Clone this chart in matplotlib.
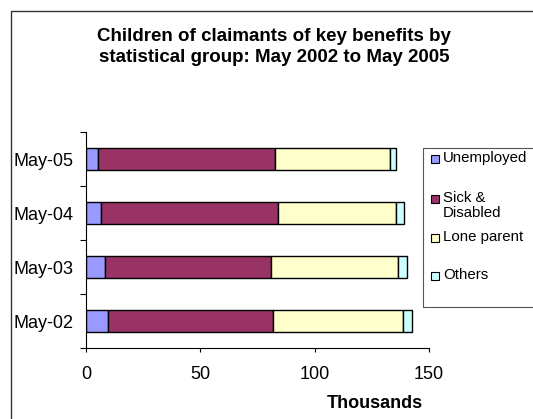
import matplotlib.pyplot as plt
from matplotlib.patches import Rectangle

# data (thousands of children)
periods = ["May-02", "May-03", "May-04", "May-05"]
groups = ["Unemployed", "Sick &\nDisabled", "Lone parent", "Others"]
unemployed = [9.7, 8.3, 6.7, 5.1]
sick_disabled = [72.1, 72.8, 77.3, 77.5]
lone_parent = [57.0, 55.5, 51.7, 50.5]
others = [3.8, 3.8, 3.2, 2.6]
x_ticks = [0, 50, 100, 150]

colors = ["#9999FF", "#993366", "#FFFFCC", "#CCFFFF"]

plt.rcParams["font.family"] = ["Liberation Sans", "DejaVu Sans"]

fig = plt.figure(figsize=(5.33, 4.19), dpi=100)
ax = fig.add_axes([86 / 533, 1 - 348 / 419, (429 - 86) / 533, (348 - 132) / 419])

series = [unemployed, sick_disabled, lone_parent, others]
left = [0.0] * len(periods)
for vals, col in zip(series, colors):
    ax.barh(periods, vals, left=left, height=0.41, color=col,
            edgecolor="black", linewidth=1.0)
    left = [a + b for a, b in zip(left, vals)]

ax.set_xlim(0, 150)
ax.set_ylim(-0.5, 3.5)
ax.set_xticks(x_ticks)
ax.set_yticks([-0.5, 0.5, 1.5, 2.5, 3.5], minor=False)
ax.set_yticks(range(len(periods)), minor=True)
ax.set_yticklabels([], minor=False)
ax.set_yticklabels(periods, minor=True)
ax.tick_params(axis="y", which="major", direction="out", length=4.5, width=0.8)
ax.tick_params(axis="y", which="minor", length=0, pad=9, labelsize=13)
ax.tick_params(axis="x", direction="out", length=3, width=0.8, pad=10, labelsize=13)
for s in ["top", "right"]:
    ax.spines[s].set_visible(False)
for s in ["left", "bottom"]:
    ax.spines[s].set_linewidth(0.8)

ax.set_xlabel("Thousands", fontsize=13, fontweight="bold")
ax.xaxis.set_label_coords((375 - 86) / (429 - 86), -(395 - 348) / (348 - 132))

fig.text(274 / 533, 1 - 47 / 419,
         "Children of claimants of key benefits by\nstatistical group: May 2002 to May 2005",
         ha="center", va="center", fontsize=13.5, fontweight="bold", linespacing=1.33)

# outer chart frame (cropped on the right and bottom)
fig.patches.append(Rectangle((11 / 533, -0.05), 1.1, 1 - 11 / 419 + 0.05,
                             transform=fig.transFigure, fill=False,
                             edgecolor="#333333", linewidth=1.0))

# legend drawn by hand to follow the reference spacing
fig.patches.append(Rectangle((423 / 533, 1 - 307 / 419), 0.3, (307 - 148) / 419,
                             transform=fig.transFigure, fill=False,
                             edgecolor="#555555", linewidth=0.8))
entry_y = [160, 200, 239, 277]
for lab, col, yy in zip(groups, colors, entry_y):
    fig.patches.append(Rectangle((431 / 533, 1 - (yy + 3) / 419), 8 / 533, 8 / 419,
                                 transform=fig.transFigure, facecolor=col,
                                 edgecolor="black", linewidth=0.8))
    fig.text(443 / 533, 1 - (yy - 9) / 419, lab, ha="left", va="top",
             fontsize=10.8, linespacing=1.1)

fig.savefig("out.png", dpi=100)
